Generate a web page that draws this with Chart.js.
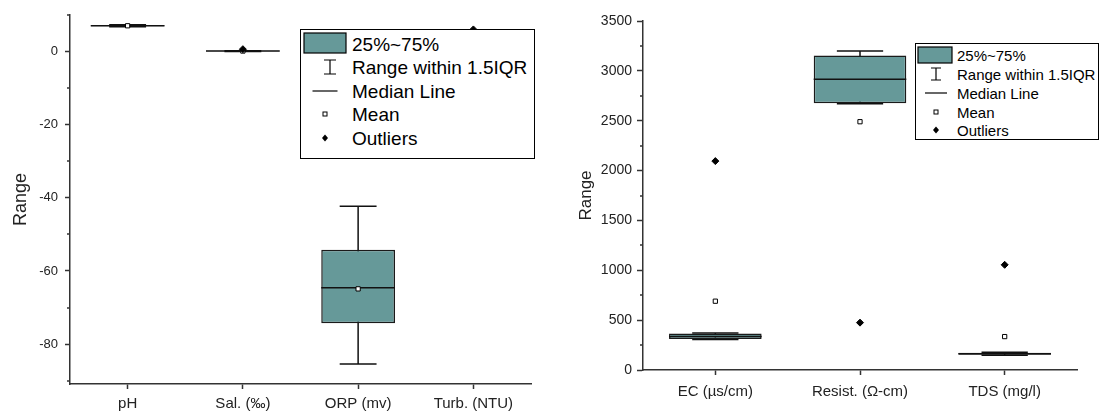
<!DOCTYPE html>
<html>
<head>
<meta charset="utf-8">
<script src="https://cdn.jsdelivr.net/npm/chart.js@4.4.1/dist/chart.umd.min.js"></script>
<style>
  html, body { margin: 0; padding: 0; background: #fff; }
  body { position: relative; width: 1101px; height: 414px; overflow: hidden; font-family: "Liberation Sans", Arial, sans-serif; }
  .wrap { position: absolute; top: 0; height: 414px; }
  #wrapL { left: 0; width: 550px; }
  #wrapR { left: 550px; width: 551px; }
  .legend { position: absolute; background: #fff; border: 1px solid #000; box-sizing: border-box; color: #000; }
  .legend span { position: absolute; white-space: nowrap; line-height: 1; transform: translateY(-50%); }
  .legend svg { position: absolute; left: 0; top: 0; overflow: visible; }
</style>
</head>
<body>
<div class="wrap" id="wrapL"><canvas id="chartL"></canvas></div>
<div class="wrap" id="wrapR"><canvas id="chartR"></canvas></div>
<div class="legend" id="legL"></div>
<div class="legend" id="legR"></div>
<script>
/* ---------- data ---------- */
const waterLabels = ['pH', 'Sal. (‰)', 'ORP (mv)', 'Turb. (NTU)'];
const waterLow    = [6.7, 0, -85.4, 0.5];
const waterQ1     = [6.85, 0.05, -74.3, 1.5];
const waterMedian = [7.0, 0.1, -64.6, 2.5];
const waterQ3     = [7.15, 0.15, -54.2, 3.5];
const waterHigh   = [7.3, 0.2, -42.3, 5.0];
const waterMean   = [7.0, 0.1, -64.9, 2.8];
const waterOutlier = [null, 0.6, null, 6.0];

const condLabels = ['EC (µs/cm)', 'Resist. (Ω-cm)', 'TDS (mg/l)'];
const condLow    = [305, 2670, 148];
const condQ1     = [312, 2675, 152];
const condMedian = [335, 2915, 162];
const condQ3     = [365, 3155, 172];
const condHigh   = [370, 3200, 178];
const condMean   = [690, 2490, 335];
const condOutlier = [2095, 475, 1055];

const legendItems = ['25%~75%', 'Range within 1.5IQR', 'Median Line', 'Mean', 'Outliers'];

/* ---------- style ---------- */
const BOX_FILL = '#669999';
const AXIS = '#333';
const FONT = '"Liberation Sans", Arial, sans-serif';
Chart.defaults.font.family = FONT;
Chart.defaults.color = '#222';

/* whiskers + median drawn with the chart's own scales */
function whiskerPlugin(low, median, high) {
  return {
    id: 'whiskers',
    beforeDatasetsDraw(chart) {
      const { ctx } = chart, y = chart.scales.y;
      const bars = chart.getDatasetMeta(0).data;
      ctx.save();
      ctx.strokeStyle = '#111';
      ctx.lineWidth = 1.5;
      bars.forEach((bar, i) => {
        const cx = bar.x, half = bar.width / 4;
        const lo = y.getPixelForValue(low[i]), hi = y.getPixelForValue(high[i]);
        ctx.beginPath();
        ctx.moveTo(cx, lo); ctx.lineTo(cx, hi);
        ctx.moveTo(cx - half, lo); ctx.lineTo(cx + half, lo);
        ctx.moveTo(cx - half, hi); ctx.lineTo(cx + half, hi);
        ctx.stroke();
      });
      ctx.restore();
    },
    afterDatasetDraw(chart, args) {
      if (args.index !== 0) return;
      const { ctx } = chart, y = chart.scales.y;
      ctx.save();
      ctx.strokeStyle = '#111';
      ctx.lineWidth = 1.5;
      args.meta.data.forEach((bar, i) => {
        const py = y.getPixelForValue(median[i]);
        ctx.beginPath();
        ctx.moveTo(bar.x - bar.width / 2, py); ctx.lineTo(bar.x + bar.width / 2, py);
        ctx.stroke();
      });
      ctx.restore();
    }
  };
}

const minorTicks = {
  id: 'minorTicks',
  afterDraw(chart, args, opts) {
    const y = chart.scales.y, ctx = chart.ctx;
    ctx.save();
    ctx.strokeStyle = AXIS;
    ctx.lineWidth = 1.5;
    for (let v = opts.start; v <= y.max; v += opts.step) {
      const py = Math.round(y.getPixelForValue(v));
      ctx.beginPath(); ctx.moveTo(y.right, py); ctx.lineTo(y.right - 3, py); ctx.stroke();
    }
    ctx.restore();
  }
};

function boxChart(id, d) {
  return new Chart(document.getElementById(id), {
    type: 'bar',
    data: {
      labels: d.labels,
      datasets: [
        { type: 'bar', data: d.q1.map((v, i) => [v, d.q3[i]]), backgroundColor: BOX_FILL,
          borderColor: '#1a1a1a', borderWidth: 1.5, borderSkipped: false,
          barPercentage: 0.64, categoryPercentage: 1, order: 3 },
        { type: 'line', data: d.mean, showLine: false, pointStyle: 'rect', pointRadius: 3,
          pointBackgroundColor: '#fff', pointBorderColor: '#000', pointBorderWidth: 1, order: 1 },
        { type: 'line', data: d.outlier, showLine: false, pointStyle: 'rectRot', pointRadius: 3.5,
          pointBackgroundColor: '#000', pointBorderColor: '#000', pointBorderWidth: 1, order: 0 }
      ]
    },
    options: {
      responsive: true,
      maintainAspectRatio: false,
      animation: false,
      layout: { padding: d.pad, autoPadding: false },
      plugins: { legend: { display: false }, tooltip: { enabled: false }, minorTicks: d.minor },
      scales: {
        x: {
          offset: true,
          ticks: { font: { size: 15 }, padding: d.xPad, color: '#222' },
          grid: { drawOnChartArea: false, tickLength: 5, tickColor: AXIS, tickWidth: 1.5, offset: false },
          border: { color: AXIS, width: 1.5 },
          afterFit(s) { s.height = d.xHeight; }
        },
        y: {
          min: d.min, max: d.max,
          ticks: { stepSize: d.step, includeBounds: false, font: { size: d.yFont }, padding: d.yPad, color: '#222',
                   callback: (v) => String(v) },
          grid: { drawOnChartArea: false, tickLength: d.yTick, tickColor: AXIS, tickWidth: 1.5 },
          border: { color: AXIS, width: 1.5 },
          title: { display: true, text: 'Range', font: { size: d.titleSize }, color: '#222', padding: { top: d.titlePad, bottom: 0 } },
          afterFit(s) { s.width = d.yWidth; }
        }
      }
    },
    plugins: [whiskerPlugin(d.low, d.median, d.high), minorTicks]
  });
}

boxChart('chartL', {
  labels: waterLabels, low: waterLow, q1: waterQ1, median: waterMedian, q3: waterQ3, high: waterHigh,
  mean: waterMean, outlier: waterOutlier,
  min: -90.9, max: 10, step: 20, minor: { start: -90, step: 20 },
  pad: { left: 0, top: 12, right: 19, bottom: 0 },
  xHeight: 30, xPad: 6, yWidth: 70, yPad: 7, yTick: 5, yFont: 13, titleSize: 18, titlePad: 10
});

boxChart('chartR', {
  labels: condLabels, low: condLow, q1: condQ1, median: condMedian, q3: condQ3, high: condHigh,
  mean: condMean, outlier: condOutlier,
  min: 0, max: 3500, step: 500, minor: { start: 250, step: 500 },
  pad: { left: 0, top: 21, right: 24, bottom: 0 },
  xHeight: 44, xPad: 8, yWidth: 93, yPad: 5, yTick: 6, yFont: 14, titleSize: 17, titlePad: 26
});

/* ---------- legends ---------- */
function buildLegend(id, c) {
  const el = document.getElementById(id);
  Object.assign(el.style, { left: c.left + 'px', top: c.top + 'px', width: c.w + 'px', height: c.h + 'px', fontSize: c.font + 'px' });
  const r = c.rows, sx = c.symX;
  const ib = c.ibeam;
  el.innerHTML =
    `<svg width="${c.w}" height="${c.h}">
      <rect x="${c.box[0]}" y="${c.box[1]}" width="${c.box[2]}" height="${c.box[3]}" fill="${BOX_FILL}" stroke="#000" stroke-width="1.2"/>
      <path d="M${ib[0]} ${r[1] - ib[1]}V${r[1] + ib[1]}M${ib[0] - ib[2]} ${r[1] - ib[1]}H${ib[0] + ib[2]}M${ib[0] - ib[2]} ${r[1] + ib[1]}H${ib[0] + ib[2]}" stroke="#000" stroke-width="1.2" fill="none"/>
      <path d="M${sx - c.lineHalf} ${r[2]}H${sx + c.lineHalf}" stroke="#000" stroke-width="1.2"/>
      <rect x="${sx - 2}" y="${r[3] - 2}" width="4" height="4" fill="#fff" stroke="#000" stroke-width="1"/>
      <path d="M${sx} ${r[4] - 3.5}L${sx + 3} ${r[4]}L${sx} ${r[4] + 3.5}L${sx - 3} ${r[4]}Z" fill="#000"/>
    </svg>` +
    legendItems.map((t, i) => `<span style="left:${c.textX}px;top:${r[i]}px">${t}</span>`).join('');
}

buildLegend('legL', {
  left: 300, top: 29, w: 235, h: 130, font: 19,
  rows: [14, 37, 61, 84, 108], symX: 24, textX: 51,
  box: [3, 3, 42, 20], ibeam: [29, 7, 6], lineHalf: 12.5
});
buildLegend('legR', {
  left: 915, top: 43, w: 184, h: 97, font: 15,
  rows: [11, 30, 49, 68, 86], symX: 20, textX: 41,
  box: [2, 3, 34, 16], ibeam: [20, 6, 5], lineHalf: 11
});
</script>
</body>
</html>
